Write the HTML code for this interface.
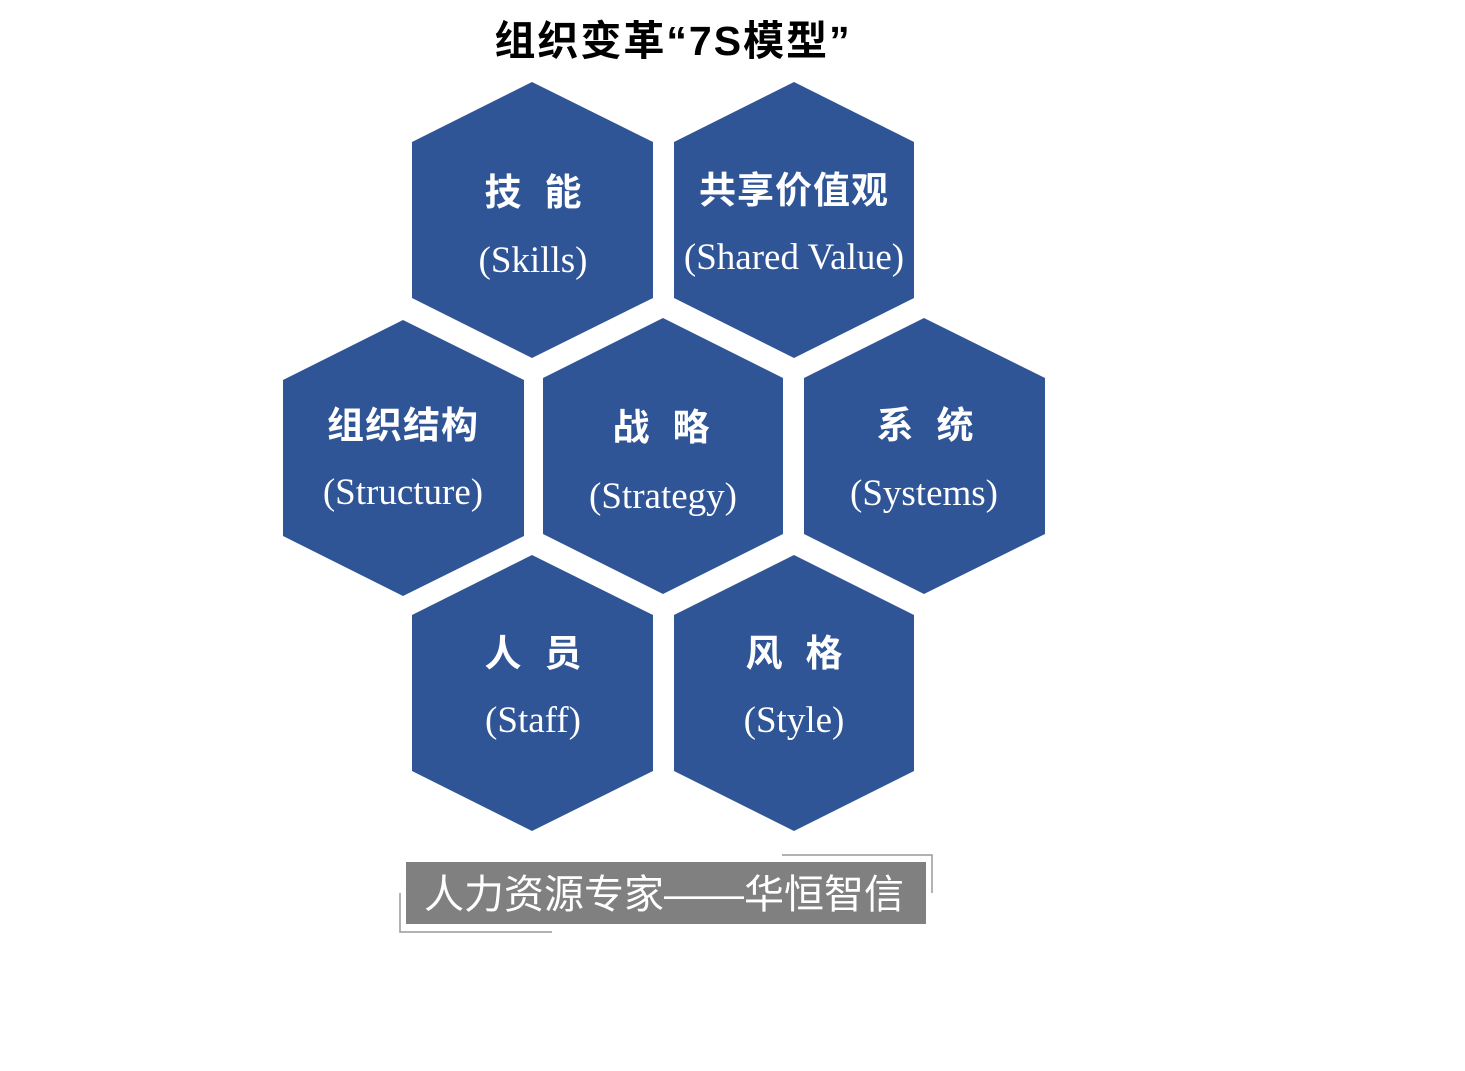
<!DOCTYPE html>
<html><head><meta charset="utf-8"><style>
body{margin:0;background:#fff;width:1465px;height:1071px;overflow:hidden}
svg{display:block}
.cn{font-family:"Liberation Sans","Noto Sans CJK SC",sans-serif;font-weight:bold;fill:#fff;font-size:37px;text-anchor:middle}
.en{font-family:"Liberation Serif","Noto Serif CJK SC",serif;fill:#fff;font-size:37px;text-anchor:middle}
.w{letter-spacing:0}
</style></head><body>
<svg width="1465" height="1071" viewBox="0 0 1465 1071">
<text x="673" y="55" font-family="Liberation Sans,'Noto Sans CJK SC',sans-serif" font-weight="bold" font-size="41" text-anchor="middle" fill="#000" letter-spacing="2">组织变革“7S模型”</text>
<g fill="#2f5597">
<polygon points="532,82 653,142 653,298 532,358 412,298 412,142"/>
<polygon points="794,82 914,142 914,298 794,358 674,298 674,142"/>
<polygon points="403,320 524,380 524,536 403,596 283,536 283,380"/>
<polygon points="663,318 783,378 783,534 663,594 543,534 543,378"/>
<polygon points="924,318 1045,378 1045,534 924,594 804,534 804,378"/>
<polygon points="532,555 653,615 653,771 532,831 412,771 412,615"/>
<polygon points="794,555 914,615 914,771 794,831 674,771 674,615"/>
</g>
<text class="cn" x="503" y="205">技</text><text class="cn" x="563" y="205">能</text><text class="en" x="533" y="272">(Skills)</text>
<text class="cn" x="794" y="203" letter-spacing="1">共享价值观</text><text class="en" x="794" y="269">(Shared Value)</text>
<text class="cn" x="403" y="438" letter-spacing="1">组织结构</text><text class="en" x="403" y="504">(Structure)</text>
<text class="cn" x="631" y="440">战</text><text class="cn" x="691" y="440">略</text><text class="en" x="663" y="508">(Strategy)</text>
<text class="cn" x="895" y="438">系</text><text class="cn" x="955" y="438">统</text><text class="en" x="924" y="505">(Systems)</text>
<text class="cn" x="503" y="666">人</text><text class="cn" x="563" y="666">员</text><text class="en" x="533" y="732">(Staff)</text>
<text class="cn" x="764" y="666">风</text><text class="cn" x="824" y="666">格</text><text class="en" x="794" y="732">(Style)</text>
<rect x="406" y="862" width="520" height="62" fill="#808080"/>
<polyline points="782,855 932,855 932,893" fill="none" stroke="#999" stroke-width="1.5"/>
<polyline points="400,893 400,932 552,932" fill="none" stroke="#999" stroke-width="1.5"/>
<text x="664" y="908" font-family="Liberation Sans,'Noto Sans CJK SC',sans-serif" font-size="40" text-anchor="middle" fill="#fff">人力资源专家——华恒智信</text>
</svg>
</body></html>
